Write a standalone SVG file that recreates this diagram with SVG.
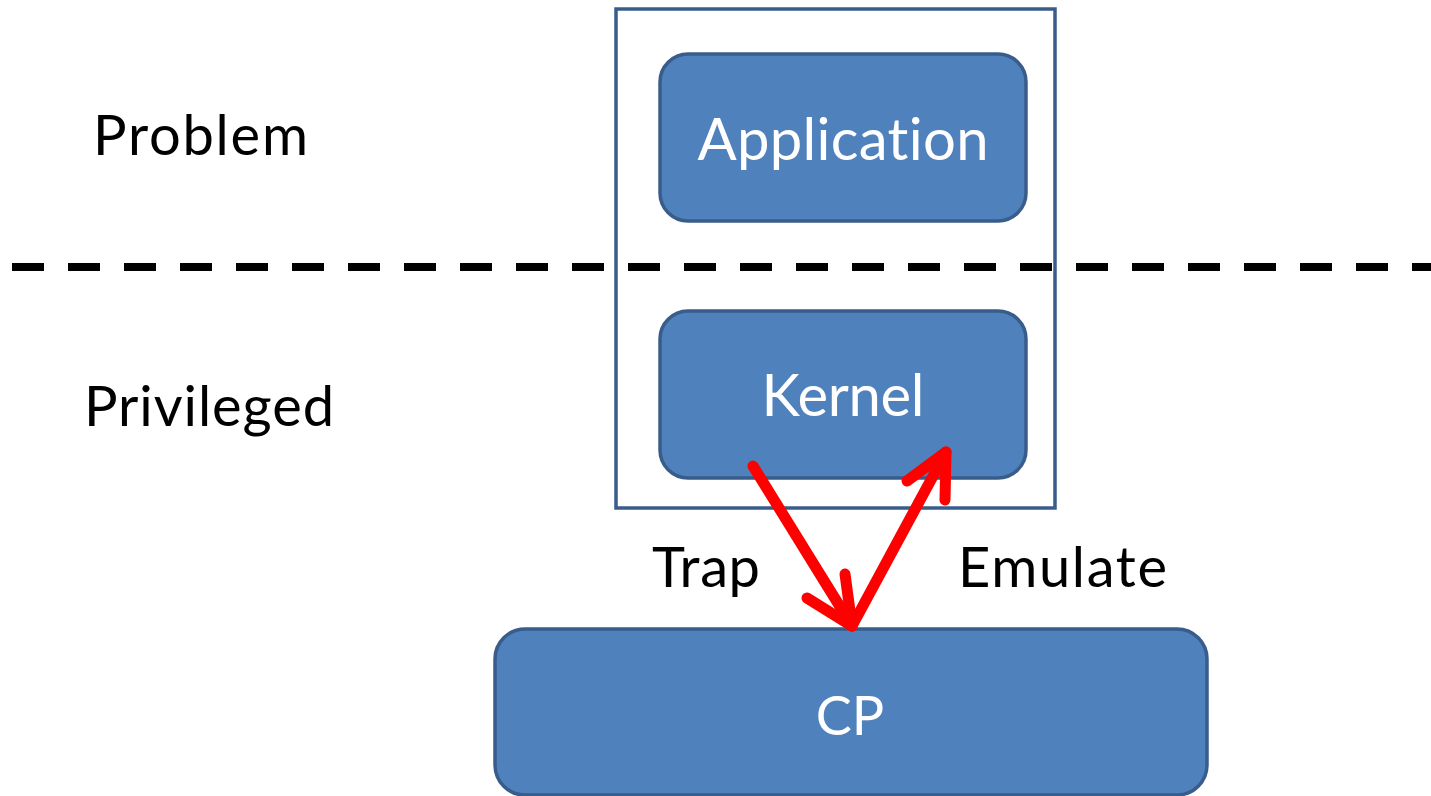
<svg xmlns="http://www.w3.org/2000/svg" width="1431" height="796" viewBox="0 0 1431 796">
<style>
.box{fill:#4f81bd;stroke:#385d8a;stroke-width:3.5}
.wt{fill:#ffffff;font-family:Lato,"Open Sans","Liberation Sans",sans-serif;font-size:58px;text-anchor:middle;font-variant-ligatures:none}
.bt{fill:#000000;font-family:Lato,"Open Sans","Liberation Sans",sans-serif;font-size:56px;font-variant-ligatures:none}
.arr{fill:none;stroke:#ff0000;stroke-width:11;stroke-linecap:round;stroke-linejoin:round}
</style>
<rect width="1431" height="796" fill="#ffffff"/>
<g id="vm-frame">
<rect x="616" y="9" width="439" height="499" fill="#ffffff" stroke="#385d8a" stroke-width="3.5"/>
</g>
<g id="divider">
<line x1="12" y1="267" x2="1431" y2="267" stroke="#000000" stroke-width="8" stroke-dasharray="32 24"/>
</g>
<g id="label-problem"><text class="bt" x="93" y="155" textLength="215">Problem</text></g>
<g id="label-privileged"><text class="bt" x="84" y="426" textLength="250">Privileged</text></g>
<g id="application">
<rect class="box" x="660" y="54" width="366" height="167" rx="28"/>
<text class="wt" x="843" y="160" textLength="291">Application</text>
</g>
<g id="kernel">
<rect class="box" x="660" y="311" width="366" height="167" rx="28"/>
<text class="wt" x="843" y="416" textLength="163">Kernel</text>
</g>
<g id="cp">
<rect class="box" x="495" y="629" width="712" height="166" rx="30"/>
<text class="wt" x="850" y="735" style="font-size:54px">CP</text>
</g>
<g id="label-trap"><text class="bt" x="652" y="587" textLength="108">Trap</text></g>
<g id="label-emulate"><text class="bt" x="958" y="587" textLength="209">Emulate</text></g>
<g id="connectors">
<line class="arr" x1="753" y1="466" x2="852" y2="626"/>
<polyline class="arr" points="807,598 852,626 845,574"/>
<line class="arr" x1="852" y1="626" x2="946" y2="452"/>
<polyline class="arr" points="907,481 946,452 945,500"/>
</g>
</svg>
